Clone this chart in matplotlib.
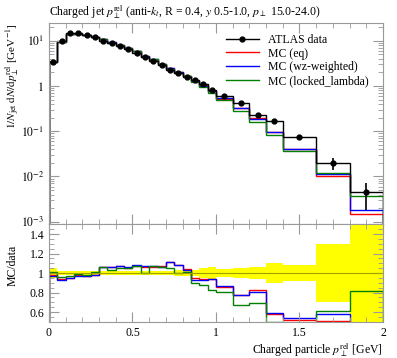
import numpy as np
import matplotlib
matplotlib.use("Agg")
import matplotlib.pyplot as plt
from matplotlib.lines import Line2D
from matplotlib.ticker import FixedLocator, MultipleLocator, FixedFormatter, FuncFormatter

plt.rcParams['font.family'] = ['Liberation Serif', 'DejaVu Serif']
plt.rcParams['mathtext.fontset'] = 'stix'

# bin edges: 0.05 wide up to 1, then wider
edges = [0.0, 0.05, 0.1, 0.15, 0.2, 0.25, 0.3, 0.35, 0.4, 0.45, 0.5,
         0.55, 0.6, 0.65, 0.7, 0.75, 0.8, 0.85, 0.9, 0.95, 1.0,
         1.1, 1.2, 1.3, 1.4, 1.6, 1.8, 2.0]

data = [3.45, 10.0, 14.6, 14.5, 13.6, 12.2, 10.0, 8.8, 7.6, 6.6, 5.4,
        4.3, 3.6, 2.9, 2.25, 1.9, 1.6, 1.36, 1.1, 0.82,
        0.61, 0.42, 0.23, 0.165, 0.076, 0.0196, 0.0046]
rel_err = [0.048, 0.025, 0.022, 0.022, 0.022, 0.022, 0.025, 0.025, 0.025, 0.025, 0.025,
           0.025, 0.025, 0.025, 0.025, 0.028, 0.034, 0.035, 0.05, 0.065,
           0.04, 0.05, 0.065, 0.1, 0.085, 0.3, 0.6]

# MC / data ratios
ratio_eq = [0.975, 0.935, 0.95, 0.975, 0.97, 0.985, 1.06, 1.06, 1.07, 1.055, 1.075,
            1.065, 1.06, 1.07, 1.11, 1.085, 1.04, 0.945, 0.94, 0.94,
            0.86, 0.77, 0.83, 0.58, 0.52, 0.51, 0.33]
ratio_wz = [0.973, 0.93, 0.945, 0.97, 0.965, 0.98, 1.065, 1.065, 1.075, 1.06, 1.08,
            1.07, 1.07, 1.065, 1.115, 1.08, 1.03, 0.93, 0.925, 0.935,
            0.867, 0.775, 0.81, 0.586, 0.535, 0.576, 0.39]
ratio_ll = [1.01, 0.955, 0.97, 0.995, 0.985, 1.01, 1.065, 1.03, 1.05, 1.05, 1.075,
            1.0, 1.07, 1.06, 1.05, 1.0, 1.01, 0.895, 0.88, 0.83,
            0.81, 0.67, 0.69, 0.5, 0.48, 0.61, 0.82]

labels = ["ATLAS data", "MC (eq)", "MC (wz-weighted)", "MC (locked_lambda)"]
colors = ["red", "blue", "green"]

edges = np.array(edges)
data = np.array(data)
rel_err = np.array(rel_err)
centers = 0.5 * (edges[1:] + edges[:-1])
ratios = [np.array(ratio_eq), np.array(ratio_wz), np.array(ratio_ll)]

frame_col = "#999999"

fig = plt.figure(figsize=(3.97, 3.58), dpi=100)
ax = fig.add_axes([0.1234, 0.3735, 0.8413, 0.5623])
axr = fig.add_axes([0.1234, 0.1011, 0.8413, 0.2724], sharex=ax)

def style(a):
    for s in a.spines.values():
        s.set_color(frame_col)
    a.tick_params(which='both', direction='in', top=True, right=True,
                  color=frame_col, labelsize=8.5)
    a.tick_params(which='major', length=7)
    a.tick_params(which='minor', length=3.5)

def num(v, pos):
    return "%g" % v

# main panel
for r, c in zip(ratios, colors):
    ax.stairs(data * r, edges, color=c, lw=1.0)
ax.stairs(data, edges, color='black', lw=1.0)
ax.errorbar(centers, data, yerr=data * rel_err, fmt='o', color='black',
            ms=3.5, elinewidth=1.2, capsize=0)
ax.set_yscale('log')
ax.set_ylim(8.8e-4, 24.5)
ax.yaxis.set_major_locator(FixedLocator([1e-3, 1e-2, 1e-1, 1, 10]))
ax.yaxis.set_major_formatter(FixedFormatter(['$10^{-3}$', '$10^{-2}$', '$10^{-1}$', '$1$', '$10^{1}$']))
style(ax)
ax.tick_params(axis='x', labelbottom=False)

handles = [Line2D([], [], color='black', marker='o', ms=3.5, lw=1.0)]
handles += [Line2D([], [], color=c, lw=1.0) for c in colors]
ax.legend(handles, labels, loc='upper left', bbox_to_anchor=(0.515, 0.97),
          frameon=False, fontsize=8.5, handlelength=2.8, labelspacing=0.15,
          handletextpad=0.8, borderaxespad=0)

ax.set_title(r"Charged jet $p_\perp^{\rm rel}$ (anti-$k_t$, R = 0.4, $y$ 0.5-1.0, $p_\perp$ 15.0-24.0)",
             fontsize=8.5, loc='left', pad=5)
ax.set_ylabel(r"$1/N_{\rm jet}\;{\rm d}N/{\rm d}p_\perp^{\rm rel}$ [GeV$^{-1}$]",
              fontsize=8, loc='top')
ax.yaxis.set_label_coords(-0.082, 1.0)

# ratio panel
axr.stairs(1 + rel_err, edges, baseline=1 - rel_err, fill=True, color='yellow', lw=0)
axr.axhline(1.0, color='#a0a000', lw=0.8)
for r, c in zip(ratios, colors):
    axr.stairs(r, edges, color=c, lw=1.0)
axr.set_xlim(0, 2)
axr.set_ylim(0.5, 1.5)
axr.xaxis.set_major_locator(MultipleLocator(0.5))
axr.xaxis.set_minor_locator(MultipleLocator(0.1))
axr.xaxis.set_major_formatter(FuncFormatter(num))
axr.yaxis.set_major_locator(FixedLocator([0.6, 0.8, 1.0, 1.2, 1.4]))
axr.yaxis.set_major_formatter(FuncFormatter(num))
axr.yaxis.set_minor_locator(MultipleLocator(0.05))
style(axr)
axr.set_ylabel("MC/data", fontsize=8.5)
axr.yaxis.set_label_coords(-0.09, 0.58)
axr.set_xlabel(r"Charged particle $p_\perp^{\rm rel}$ [GeV]", fontsize=8.5, loc='right')
axr.xaxis.set_label_coords(1.0, -0.2)

fig.savefig("out.png", dpi=100)
